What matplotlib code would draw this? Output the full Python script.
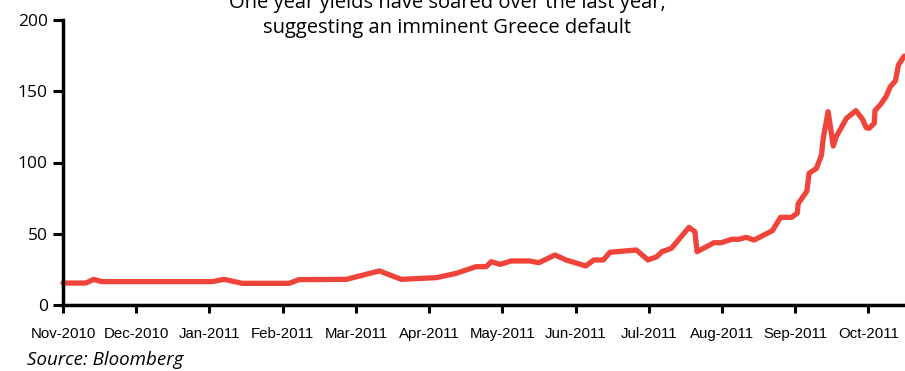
import matplotlib
matplotlib.use("Agg")
import matplotlib.pyplot as plt

# months since Nov-2010 (ticks are evenly spaced, one per month)
month_pos = [0.00, 0.31, 0.42, 0.53, 2.04, 2.20, 2.45, 3.09, 3.22, 3.87,
             4.32, 4.62, 5.10, 5.37, 5.64, 5.78, 5.85, 5.97, 6.12, 6.37,
             6.50, 6.72, 6.87, 7.14, 7.25, 7.38, 7.47, 7.83, 7.99, 8.11,
             8.18, 8.31, 8.55, 8.63, 8.66, 8.89, 8.99, 9.13, 9.23, 9.33,
             9.44, 9.69, 9.80, 9.95, 10.03, 10.04, 10.16, 10.19, 10.29, 10.36,
             10.38, 10.45, 10.52, 10.56, 10.70, 10.83, 10.92, 10.97, 11.01, 11.08,
             11.09, 11.17, 11.24, 11.30, 11.37, 11.41, 11.49]
yields = [15.4, 15.4, 18.0, 16.4, 16.4, 18.0, 15.2, 15.2, 17.8, 18.0,
          23.9, 18.0, 19.2, 22.2, 26.9, 26.9, 30.4, 28.5, 30.9, 30.9,
          29.7, 35.1, 31.6, 27.4, 31.6, 31.6, 37.0, 38.6, 31.6, 33.9,
          37.4, 39.8, 54.5, 51.5, 37.4, 43.7, 43.7, 46.1, 46.1, 47.5,
          45.6, 52.2, 61.5, 61.5, 64.5, 71.0, 80.0, 92.4, 95.9, 105.3,
          115.8, 135.7, 111.6, 118.1, 131.0, 136.4, 130.3, 124.4, 124.0, 127.5,
          136.4, 141.0, 146.2, 153.2, 157.4, 168.4, 174.7]
month_labels = ["Nov-2010", "Dec-2010", "Jan-2011", "Feb-2011", "Mar-2011", "Apr-2011",
                "May-2011", "Jun-2011", "Jul-2011", "Aug-2011", "Sep-2011", "Oct-2011"]
y_ticks = [0, 50, 100, 150, 200]

hum = "Open Sans"

fig = plt.figure(figsize=(9.05, 3.71), dpi=100)
ax = fig.add_axes([63/905, 66/371, 842/905, 285/371])

ax.plot(month_pos, yields, color="#F0443A", lw=3.8, solid_joinstyle="round", solid_capstyle="round", clip_on=False)

ax.set_xlim(0, 11.5)
ax.set_ylim(0, 200)
ax.set_xticks(range(len(month_labels)))
ax.set_xticklabels(month_labels, fontsize=10.8, family="Liberation Sans")
ax.set_yticks(y_ticks)
ax.set_yticklabels([str(v) for v in y_ticks], fontsize=12.5, family=hum)

for s in ["top", "right"]:
    ax.spines[s].set_visible(False)
for s in ["left", "bottom"]:
    ax.spines[s].set_linewidth(2.5)
ax.tick_params(axis="y", length=7, width=2.2, pad=4)
ax.tick_params(axis="x", length=6, width=2.2, pad=10)

# title sits partly above the top edge, as in the source image
fig.text(447/905, 1 - 8/371, "One year yields have soared over the last year,",
         ha="center", va="baseline", fontsize=14.5, family=hum)
fig.text(447/905, 1 - 33/371, "suggesting an imminent Greece default",
         ha="center", va="baseline", fontsize=14.5, family=hum)
fig.text(27/905, 1 - 365/371, "Source: Bloomberg", ha="left", va="baseline",
         fontsize=13.5, family=hum, style="italic")

fig.savefig("out.png", dpi=100)
